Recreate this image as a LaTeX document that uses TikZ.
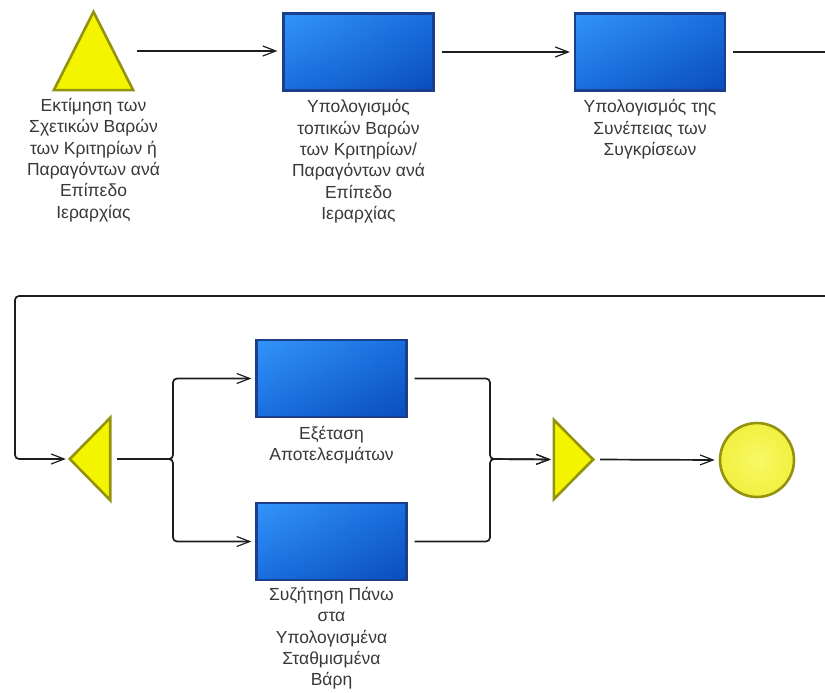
\documentclass[tikz,border=0pt]{standalone}
\usepackage{fontspec}
\setmainfont{Liberation Sans}
\usetikzlibrary{arrows.meta,shadings}
\definecolor{bluelt}{HTML}{3394FA}
\definecolor{bluemid}{HTML}{1A6EDE}
\definecolor{bluedk}{HTML}{0A4DBE}
\definecolor{boxedge}{HTML}{1B3F8C}
\definecolor{yfill}{HTML}{F4F400}
\definecolor{yedge}{HTML}{939310}
\definecolor{cfill}{HTML}{F1F040}
\definecolor{txt}{HTML}{383838}
\definecolor{wire}{HTML}{1E1E1E}
\begin{document}
\begin{tikzpicture}[x=1pt,y=-1pt,
  task/.style={draw=boxedge, line width=2.2pt, minimum width=150pt, minimum height=77pt,
    inner sep=0pt, upper left=bluelt, upper right=bluemid, lower left=bluemid, lower right=bluedk},
  gate/.style={inner sep=0pt, draw=none},
  tri/.style={fill=yfill, draw=yedge, line width=2.6pt, line join=miter},
  endpt/.style={circle, minimum size=74pt, inner sep=0pt, inner color=yfill!60!white, outer color=cfill,
    draw=yedge, line width=2.6pt},
  lbl/.style={align=center, text=txt, inner sep=0pt, font=\fontsize{17.5}{21.3}\selectfont},
  flow/.style={draw=wire, line width=1.7pt, rounded corners=4pt,
    -{Straight Barb[length=13pt,width=10pt,line width=1.2pt]}}
]
\useasboundingbox (0,0) rectangle (825,693);

% first row
\node[gate, minimum width=79pt, minimum height=78pt] (t1) at (93.5,51) {};
\draw[tri] (t1.north) -- (t1.south east) -- (t1.south west) -- cycle;
\node[task] (b1) at (358.5,52) {};
\node[task] (b2) at (650,52) {};

% second row
\node[gate, minimum width=40pt, minimum height=82pt] (t2) at (90,459) {};
\draw[tri] (t2.west) -- (t2.north east) -- (t2.south east) -- cycle;
\node[task] (b3) at (331.5,378.5) {};
\node[task] (b4) at (331.5,541.5) {};
\node[gate, minimum width=39pt, minimum height=79pt] (t3) at (573.5,459.5) {};
\draw[tri] (t3.north west) -- (t3.east) -- (t3.south west) -- cycle;
\node[endpt] (end) at (757,460) {};

% captions
\node[lbl, below=8pt] (l1) at (t1.south) {Εκτίμηση των\\Σχετικών Βαρών\\των Κριτηρίων ή\\Παραγόντων ανά\\Επίπεδο\\Ιεραρχίας};
\node[lbl, below=8pt] (l2) at (b1.south) {Υπολογισμός\\τοπικών Βαρών\\των Κριτηρίων/\\Παραγόντων ανά\\Επίπεδο\\Ιεραρχίας};
\node[lbl, below=8pt] (l3) at (b2.south) {Υπολογισμός της\\Συνέπειας των\\Συγκρίσεων};
\node[lbl, below=8pt] (l4) at (b3.south) {Εξέταση\\Αποτελεσμάτων};
\node[lbl, below=6pt] (l5) at (b4.south) {Συζήτηση Πάνω\\στα\\Υπολογισμένα\\Σταθμισμένα\\Βάρη};

% branch and merge points
\coordinate (fork) at (173,459);
\coordinate (join) at (490,459);

% connectors
\draw[flow, shorten <=4pt, shorten >=5pt] (t1.east) -- (t1.east -| b1.west);
\draw[flow, shorten <=7pt, shorten >=4pt] (b1.east) -- (b2.west);
\draw[flow, shorten <=7pt, shorten >=4pt] (b2.east) -- (860,52) |- (15,296) |- (t2.west);
\draw[flow, shorten <=7pt, shorten >=4pt] (t2.east) -- (fork) |- (b3.west);
\draw[flow, shorten <=7pt, shorten >=4pt] (t2.east) -- (fork) |- (b4.west);
\draw[flow, shorten <=7pt, shorten >=3pt] (b3.east) -| (join) -- (t3.west);
\draw[flow, shorten <=7pt, shorten >=3pt] (b4.east) -| (join) -- (t3.west);
\draw[flow, shorten <=7pt, shorten >=4pt] (t3.east) -- (end.west);
\end{tikzpicture}
\end{document}
